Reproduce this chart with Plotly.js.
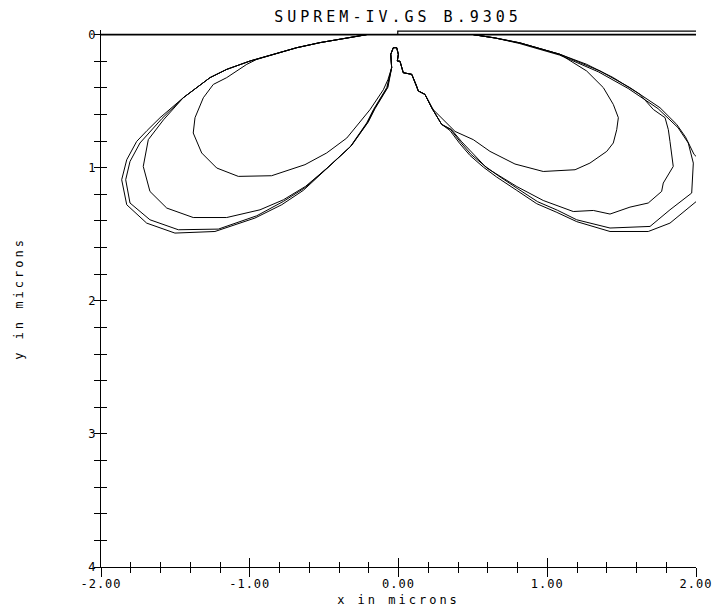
<!DOCTYPE html>
<html>
<head>
<meta charset="utf-8">
<script src="https://cdn.plot.ly/plotly-3.0.1.min.js"></script>
<style>
  html, body { margin: 0; padding: 0; background: #fff; }
  #chart { width: 715px; height: 608px; }
  .gtitle { letter-spacing: 4px; }
  .xtitle, .ytitle { letter-spacing: 3px; }
  .xtick text, .ytick text { letter-spacing: 1px; }
</style>
</head>
<body>
<div id="chart"></div>
<script>
// ---- data (microns) ----
const titleText = "SUPREM-IV.GS B.9305";
const xTickVals = [-2, -1, 0, 1, 2];
const xTickText = ["-2.00", "-1.00", "0.00", "1.00", "2.00"];
const yTickVals = [0, 1, 2, 3, 4];
const yTickText = ["0", "1", "2", "3", "4"];

// silicon surface and gate edge
const surfX = [-2, 2];
const surfY = [0, 0];
const gateX = [-0.005, -0.005, 2];
const gateY = [0, -0.026, -0.026];

// contour 1 (outermost)
const c1x = [-0.214,-0.393,-0.528,-0.684,-0.842,-0.998,-1.155,-1.267,-1.447,-1.603,-1.690,-1.760,-1.827,-1.861,-1.827,-1.693,-1.503,-1.234,-0.965,-0.785,-0.640,-0.483,-0.326,-0.214,-0.169,-0.079,-0.046,-0.052,-0.035,-0.012,-0.001,-0.008,0.010,0.032,0.089,0.122,0.133,0.178,0.223,0.290,0.346,0.413,0.481,0.570,0.660,0.795,0.929,1.064,1.198,1.422,1.679,1.825,1.987,2.06,2.06,1.987,1.930,1.870,1.758,1.556,1.355,1.086,0.817,0.650,0.503];
const c1y = [0.000,0.035,0.060,0.098,0.148,0.198,0.261,0.323,0.474,0.624,0.720,0.802,0.940,1.090,1.278,1.416,1.491,1.479,1.378,1.278,1.170,1.010,0.845,0.664,0.564,0.398,0.248,0.148,0.098,0.098,0.148,0.198,0.200,0.286,0.298,0.386,0.423,0.449,0.549,0.674,0.720,0.820,0.908,0.995,1.070,1.170,1.270,1.335,1.405,1.479,1.479,1.416,1.265,1.200,0.980,0.900,0.770,0.674,0.549,0.398,0.273,0.148,0.062,0.025,0.000];

// contour 2
const c2x = [-0.214,-0.393,-0.528,-0.684,-0.842,-0.998,-1.155,-1.267,-1.447,-1.590,-1.738,-1.805,-1.834,-1.805,-1.671,-1.480,-1.211,-0.953,-0.774,-0.629,-0.478,-0.320,-0.208,-0.163,-0.075,-0.046,-0.052,-0.035,-0.012,-0.001,-0.008,0.010,0.032,0.089,0.122,0.133,0.178,0.223,0.290,0.352,0.420,0.488,0.578,0.668,0.802,0.935,1.070,1.198,1.422,1.691,1.825,1.971,1.982,1.948,1.880,1.745,1.545,1.345,1.082,0.812,0.650,0.503];
const c2y = [0.000,0.035,0.060,0.098,0.148,0.198,0.261,0.323,0.474,0.630,0.814,0.953,1.090,1.265,1.391,1.466,1.461,1.361,1.253,1.150,1.000,0.838,0.660,0.560,0.398,0.248,0.148,0.098,0.098,0.148,0.198,0.200,0.286,0.298,0.386,0.423,0.449,0.549,0.674,0.714,0.812,0.900,0.985,1.058,1.158,1.255,1.320,1.391,1.453,1.441,1.316,1.190,0.965,0.814,0.700,0.556,0.405,0.280,0.153,0.066,0.025,0.000];

// contour 3
const c3x = [-0.214,-0.393,-0.528,-0.684,-0.842,-0.998,-1.155,-1.267,-1.447,-1.580,-1.682,-1.716,-1.671,-1.558,-1.380,-1.155,-0.931,-0.774,-0.625,-0.472,-0.315,-0.203,-0.158,-0.071,-0.046,-0.052,-0.035,-0.012,-0.001,-0.008,0.010,0.032,0.089,0.122,0.133,0.178,0.223,0.290,0.355,0.425,0.500,0.593,0.795,0.973,1.175,1.310,1.422,1.556,1.679,1.769,1.780,1.847,1.825,1.814,1.792,1.713,1.624,1.444,1.265,1.086,0.817,0.650,0.503];
const c3y = [0.000,0.035,0.060,0.098,0.148,0.198,0.261,0.323,0.474,0.640,0.789,0.990,1.178,1.303,1.374,1.374,1.316,1.241,1.140,0.995,0.832,0.656,0.556,0.395,0.248,0.148,0.098,0.098,0.148,0.198,0.200,0.286,0.298,0.386,0.423,0.449,0.549,0.674,0.712,0.805,0.890,1.002,1.141,1.246,1.329,1.321,1.348,1.296,1.265,1.178,1.115,0.990,0.802,0.714,0.624,0.562,0.449,0.323,0.223,0.148,0.062,0.025,0.000];

// contour 4 (innermost)
const c4x = [-0.214,-0.393,-0.528,-0.684,-0.842,-0.953,-1.020,-1.155,-1.245,-1.312,-1.368,-1.380,-1.323,-1.222,-1.077,-0.853,-0.629,-0.483,-0.348,-0.192,-0.102,-0.071,-0.046,-0.052,-0.035,-0.012,-0.001,-0.008,0.010,0.032,0.089,0.122,0.133,0.178,0.234,0.380,0.503,0.615,0.783,0.973,1.187,1.287,1.400,1.444,1.467,1.478,1.444,1.377,1.265,1.086,0.817,0.650,0.503];
const c4y = [0.000,0.035,0.060,0.098,0.148,0.186,0.223,0.323,0.374,0.474,0.624,0.739,0.889,1.002,1.065,1.060,0.977,0.889,0.777,0.564,0.414,0.338,0.248,0.148,0.098,0.098,0.148,0.198,0.200,0.286,0.298,0.386,0.423,0.449,0.564,0.727,0.789,0.877,0.972,1.028,1.015,0.965,0.877,0.814,0.714,0.624,0.524,0.398,0.273,0.148,0.062,0.025,0.000];

// ---- chart ----
const FONT = "DejaVu Sans Mono, monospace";
const line = (w) => ({ color: "#000", width: w });
const contour = (x, y) => ({ type: "scatter", mode: "lines", x: x, y: y, line: line(1), hoverinfo: "skip", showlegend: false });

const traces = [
  { type: "scatter", mode: "lines", x: surfX, y: surfY, line: line(1.6), showlegend: false },
  { type: "scatter", mode: "lines", x: gateX, y: gateY, line: line(1.2), showlegend: false },
  contour(c1x, c1y),
  contour(c2x, c2y),
  contour(c3x, c3y),
  contour(c4x, c4y),
  { type: "scatter", mode: "lines", x: [], y: [], xaxis: "x2", yaxis: "y2", showlegend: false }
];

const axCommon = {
  showgrid: false, zeroline: false, showline: true, linecolor: "#000", linewidth: 1,
  tickcolor: "#000", tickwidth: 1,
  tickfont: { family: FONT, size: 12, color: "#000" }
};

const layout = {
  width: 715, height: 608,
  margin: { l: 101, r: 19, t: 30, b: 41 },
  paper_bgcolor: "#fff", plot_bgcolor: "#fff",
  showlegend: false,
  title: {
    text: titleText,
    font: { family: FONT, size: 15, color: "#000" },
    xref: "container", yref: "container",
    x: 398 / 715, y: 1 - 17 / 608, xanchor: "center", yanchor: "middle"
  },
  xaxis: Object.assign({}, axCommon, {
    range: [-2, 2], tickmode: "array", tickvals: xTickVals, ticktext: xTickText,
    ticks: "outside", ticklen: 9,
    minor: { dtick: 0.2, tick0: 0, ticks: "outside", ticklen: 5, tickcolor: "#000", showgrid: false },
    ticklabelstandoff: -3,
    title: { text: "x in microns", font: { family: FONT, size: 12, color: "#000" }, standoff: 5 },
    automargin: false, anchor: "y"
  }),
  xaxis2: Object.assign({}, axCommon, {
    overlaying: "x", matches: "x", anchor: "y", showticklabels: false,
    tickmode: "array", tickvals: xTickVals,
    ticks: "inside", ticklen: 9,
    minor: { dtick: 0.2, tick0: 0, ticks: "inside", ticklen: 5, tickcolor: "#000", showgrid: false }
  }),
  yaxis: Object.assign({}, axCommon, {
    range: [4, -0.035], tickmode: "array", tickvals: yTickVals, ticktext: yTickText,
    ticks: "outside", ticklen: 6,
    minor: { dtick: 0.2, tick0: 0, ticks: "outside", ticklen: 6, tickcolor: "#000", showgrid: false },
    ticklabelstandoff: -5,
    title: { text: "y in microns", font: { family: FONT, size: 12, color: "#000" }, standoff: 62 },
    automargin: false, anchor: "x"
  }),
  yaxis2: Object.assign({}, axCommon, {
    overlaying: "y", matches: "y", anchor: "x", side: "left", showticklabels: false,
    tickmode: "array", tickvals: yTickVals,
    ticks: "inside", ticklen: 6,
    minor: { dtick: 0.2, tick0: 0, ticks: "inside", ticklen: 6, tickcolor: "#000", showgrid: false }
  })
};

Plotly.newPlot("chart", traces, layout, { staticPlot: true, displayModeBar: false });
</script>
</body>
</html>
